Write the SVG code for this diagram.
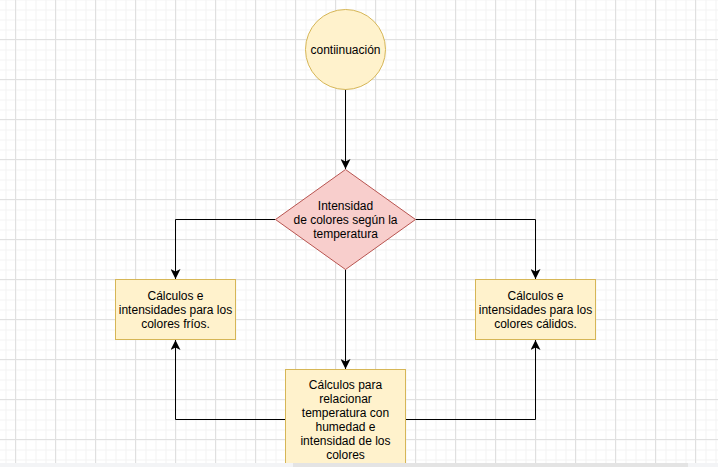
<svg xmlns="http://www.w3.org/2000/svg" width="718" height="467" viewBox="0 0 718 467">
  <defs>
    <pattern id="minor" width="10" height="10" patternUnits="userSpaceOnUse" x="5.5" y="9.5">
      <path d="M 0 0.5 H 10 M 0.5 0 V 10" fill="none" stroke="#f3f3f3" stroke-width="1"/>
    </pattern>
    <pattern id="major" width="40" height="40" patternUnits="userSpaceOnUse" x="15" y="39">
      <path d="M 0 0.5 H 40 M 0.5 0 V 40" fill="none" stroke="#e0e0e0" stroke-width="1"/>
    </pattern>
    <marker id="arrow" markerUnits="userSpaceOnUse" markerWidth="10" markerHeight="10" viewBox="0 0 8 8" refX="8" refY="4" orient="auto">
      <path d="M 8 4 L 0 0 L 2 4 L 0 8 Z" fill="#000"/>
    </marker>
  </defs>
  <style>
    .txt { font-family: "Liberation Sans", Arial, sans-serif; font-size: 12px; fill: #000; text-anchor: middle; }
    .yel { fill: #fff2cc; stroke: #d6b656; stroke-width: 1; }
    .red { fill: #f8cecc; stroke: #b85450; stroke-width: 1; }
    .edge { fill: none; stroke: #000; stroke-width: 1; marker-end: url(#arrow); }
  </style>
  <rect width="718" height="467" fill="#ffffff"/>
  <rect width="718" height="467" fill="url(#minor)"/>
  <rect width="718" height="467" fill="url(#major)"/>

  <g id="connectors">
    <path class="edge" d="M 345.5 89.5 V 169"/>
    <path class="edge" d="M 275.5 219.5 H 175.5 V 279"/>
    <path class="edge" d="M 415.5 219.5 H 535.5 V 279"/>
    <path class="edge" d="M 345.5 269.5 V 369"/>
    <path class="edge" d="M 285.5 419.5 H 175.5 V 340"/>
    <path class="edge" d="M 405.5 419.5 H 535.5 V 340"/>
  </g>

  <g id="continuacion">
    <circle class="yel" cx="345.5" cy="49.5" r="40"/>
    <text class="txt" x="345.5" y="53.5">contiinuación</text>
  </g>

  <g id="intensidad">
    <path class="red" d="M 345.5 169.5 L 415.5 219.5 L 345.5 269.5 L 275.5 219.5 Z"/>
    <text class="txt" x="345.5" y="209.5">Intensidad</text>
    <text class="txt" x="345.5" y="223.5">de colores según la</text>
    <text class="txt" x="345.5" y="237.5">temperatura</text>
  </g>

  <g id="frios">
    <rect class="yel" x="115.5" y="279.5" width="120" height="60"/>
    <text class="txt" x="175.5" y="299.5">Cálculos e</text>
    <text class="txt" x="175.5" y="313.5">intensidades para los</text>
    <text class="txt" x="175.5" y="327.5">colores fríos.</text>
  </g>

  <g id="calidos">
    <rect class="yel" x="475.5" y="279.5" width="120" height="60"/>
    <text class="txt" x="535.5" y="299.5">Cálculos e</text>
    <text class="txt" x="535.5" y="313.5">intensidades para los</text>
    <text class="txt" x="535.5" y="327.5">colores cálidos.</text>
  </g>

  <g id="relacionar">
    <rect class="yel" x="285.5" y="369.5" width="120" height="100"/>
    <text class="txt" x="345.5" y="388.5">Cálculos para</text>
    <text class="txt" x="345.5" y="402.5">relacionar</text>
    <text class="txt" x="345.5" y="416.5">temperatura con</text>
    <text class="txt" x="345.5" y="430.5">humedad e</text>
    <text class="txt" x="345.5" y="444.5">intensidad de los</text>
    <text class="txt" x="345.5" y="458.5">colores</text>
  </g>

  <g id="scrollbar">
    <rect x="0" y="463" width="718" height="4" fill="#f3f4f6"/>
    <rect x="293" y="463" width="395" height="4" fill="#e4e4e4"/>
  </g>
</svg>
